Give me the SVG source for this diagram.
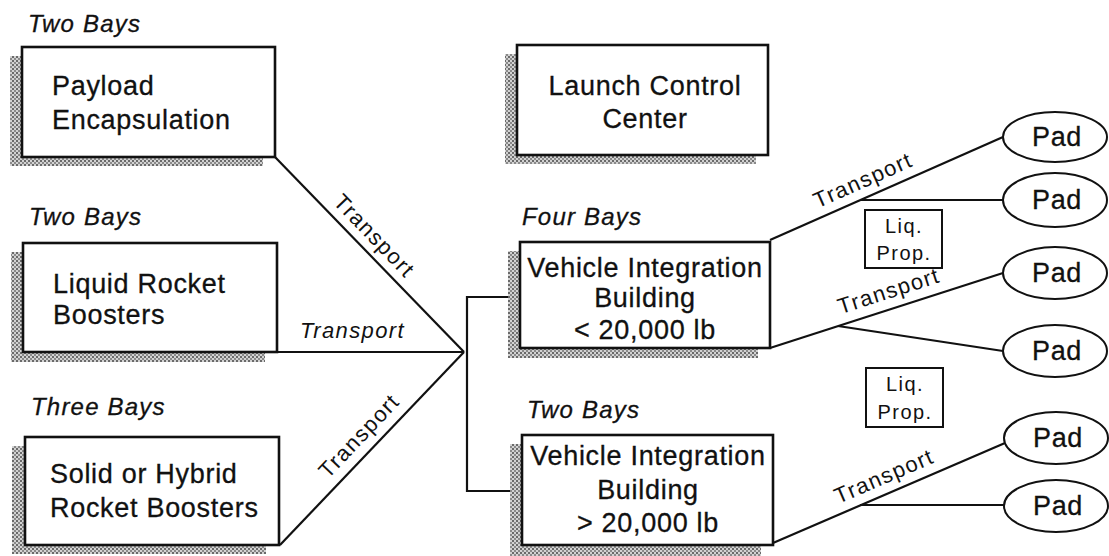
<svg xmlns="http://www.w3.org/2000/svg" width="1109" height="556" viewBox="0 0 1109 556">
<defs>
<pattern id="hatch" width="4" height="4" patternUnits="userSpaceOnUse">
<rect width="4" height="4" fill="#d2d2d2"/>
<rect x="0" y="0" width="2" height="2" fill="#6a6a6a"/>
<rect x="2" y="2" width="2" height="2" fill="#8a8a8a"/>
</pattern>
<style>
.box{fill:#fff;stroke:#111;stroke-width:2.6}
.shadow{fill:url(#hatch)}
.small{fill:#fff;stroke:#111;stroke-width:2}
.pad{fill:#fff;stroke:#111;stroke-width:2}
.line{stroke:#111;stroke-width:2.2;fill:none}
.t{font-family:"Liberation Sans",Arial,sans-serif;font-size:27px;letter-spacing:0.7px;fill:#111;stroke:#111;stroke-width:0.3}
.c{text-anchor:middle}
.lbl{font-family:"Liberation Sans",Arial,sans-serif;font-size:24px;font-style:italic;letter-spacing:1.2px;fill:#111;stroke:#111;stroke-width:0.3}
.tr{font-family:"Liberation Sans",Arial,sans-serif;font-size:22px;font-style:italic;letter-spacing:1.4px;fill:#111}
.tr2{font-family:"Liberation Sans",Arial,sans-serif;font-size:22px;letter-spacing:1.4px;fill:#111;text-anchor:middle}
.lp{font-family:"Liberation Sans",Arial,sans-serif;font-size:20px;letter-spacing:1.4px;fill:#111;text-anchor:middle}
</style>
</defs>
<rect width="1109" height="556" fill="#fff"/>

<g id="connectors">
<line class="line" x1="275" y1="157" x2="464" y2="352"/>
<line class="line" x1="277" y1="352" x2="464" y2="352"/>
<line class="line" x1="280" y1="545" x2="464" y2="352"/>
<polyline class="line" points="520,297 467,297 467,491 522,491"/>
<line class="line" x1="770" y1="240" x2="1003" y2="137"/>
<line class="line" x1="860" y1="200" x2="1003" y2="200"/>
<line class="line" x1="770" y1="348" x2="1003" y2="273"/>
<line class="line" x1="838" y1="326" x2="1003" y2="351"/>
<line class="line" x1="773" y1="543" x2="1005" y2="443"/>
<line class="line" x1="860" y1="505" x2="1005" y2="505"/>
<text class="tr2" transform="translate(369,241) rotate(46)">Transport</text>
<text class="tr" x="300" y="338">Transport</text>
<text class="tr2" transform="translate(364.5,441) rotate(-46.5)">Transport</text>
<text class="tr2" transform="translate(866,187) rotate(-23.9)">Transport</text>
<text class="tr2" transform="translate(891,298) rotate(-17.8)">Transport</text>
<text class="tr2" transform="translate(887,483) rotate(-23.3)">Transport</text>
</g>

<g id="payload">
<text class="lbl" x="28" y="32">Two Bays</text>
<rect class="shadow" x="10" y="56" width="253" height="110"/>
<rect class="box" x="22" y="47" width="253" height="110"/>
<text class="t" x="52" y="95">Payload</text>
<text class="t" x="52" y="129">Encapsulation</text>
</g>

<g id="liquid">
<text class="lbl" x="29" y="225">Two Bays</text>
<rect class="shadow" x="11" y="252" width="254" height="110"/>
<rect class="box" x="23" y="243" width="254" height="109"/>
<text class="t" x="53" y="293">Liquid Rocket</text>
<text class="t" x="53" y="324">Boosters</text>
</g>

<g id="solid">
<text class="lbl" x="31" y="415">Three Bays</text>
<rect class="shadow" x="12" y="446" width="254" height="108"/>
<rect class="box" x="25" y="437" width="254" height="108"/>
<text class="t" x="50" y="483">Solid or Hybrid</text>
<text class="t" x="50" y="517">Rocket Boosters</text>
</g>

<g id="lcc">
<rect class="shadow" x="505" y="54" width="251" height="110"/>
<rect class="box" x="517" y="45" width="251" height="110"/>
<text class="t c" x="645" y="95">Launch Control</text>
<text class="t c" x="645" y="128">Center</text>
</g>

<g id="vib1">
<text class="lbl" x="522" y="225">Four Bays</text>
<rect class="shadow" x="508" y="251" width="250" height="107"/>
<rect class="box" x="520" y="242" width="250" height="106"/>
<text class="t c" x="645" y="277">Vehicle Integration</text>
<text class="t c" x="645" y="307">Building</text>
<text class="t c" x="645" y="339">&lt; 20,000 lb</text>
</g>

<g id="vib2">
<text class="lbl" x="527" y="418">Two Bays</text>
<rect class="shadow" x="510" y="444" width="251" height="112"/>
<rect class="box" x="522" y="435" width="251" height="110"/>
<text class="t c" x="648" y="465">Vehicle Integration</text>
<text class="t c" x="648" y="499">Building</text>
<text class="t c" x="648" y="532">&gt; 20,000 lb</text>
</g>

<g id="liqprop1">
<rect class="small" x="865" y="210" width="77" height="58"/>
<text class="lp" x="904" y="233">Liq.</text>
<text class="lp" x="904" y="260">Prop.</text>
</g>

<g id="liqprop2">
<rect class="small" x="866" y="368" width="77" height="59"/>
<text class="lp" x="905" y="391">Liq.</text>
<text class="lp" x="905" y="419">Prop.</text>
</g>

<g id="pad1"><ellipse class="pad" cx="1055" cy="137" rx="52" ry="25"/><text class="t c" x="1057" y="146">Pad</text></g>
<g id="pad2"><ellipse class="pad" cx="1055" cy="200" rx="52" ry="27"/><text class="t c" x="1057" y="209">Pad</text></g>
<g id="pad3"><ellipse class="pad" cx="1055" cy="273" rx="52" ry="26"/><text class="t c" x="1057" y="282">Pad</text></g>
<g id="pad4"><ellipse class="pad" cx="1055" cy="351" rx="52" ry="26"/><text class="t c" x="1057" y="360">Pad</text></g>
<g id="pad5"><ellipse class="pad" cx="1056" cy="438" rx="52" ry="26"/><text class="t c" x="1058" y="447">Pad</text></g>
<g id="pad6"><ellipse class="pad" cx="1056" cy="506" rx="52" ry="26"/><text class="t c" x="1058" y="515">Pad</text></g>
</svg>
